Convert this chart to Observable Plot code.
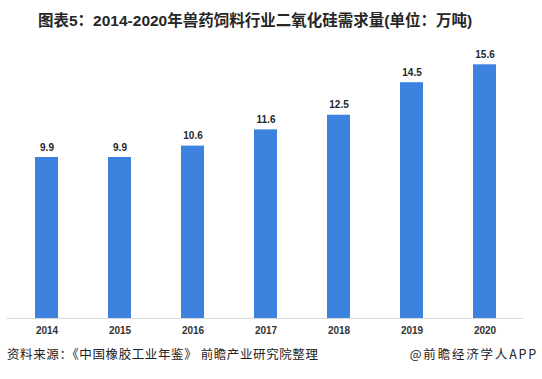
<!DOCTYPE html>
<html>
<head>
<meta charset="utf-8">
<script src="https://cdn.jsdelivr.net/npm/d3@7"></script>
<script src="https://cdn.jsdelivr.net/npm/@observablehq/plot@0.6"></script>
<style>
  html, body { margin: 0; padding: 0; background: #fff; }
  #wrap { position: relative; width: 542px; height: 379px; overflow: hidden; font-family: "Liberation Sans", "Noto Sans CJK SC", sans-serif; }
  #title { position: absolute; left: 38px; top: 8px; font-size: 15.5px; font-weight: bold; color: #262626; white-space: nowrap; }
  #chart { position: absolute; left: 0; top: 40px; }
  #source { position: absolute; left: 7px; top: 344px; font-size: 12.5px; color: #222; letter-spacing: 0.6px; white-space: nowrap; font-family: "Noto Sans CJK SC", sans-serif; }
  #brand { position: absolute; right: 4px; top: 344px; font-size: 12.5px; color: #222; letter-spacing: 1.8px; white-space: nowrap; font-family: "Noto Sans CJK SC", sans-serif; }
</style>
</head>
<body>
<div id="wrap">
  <div id="title">图表5：2014-2020年兽药饲料行业二氧化硅需求量(单位：万吨)</div>
  <div id="chart"></div>
  <div id="source">资料来源：《中国橡胶工业年鉴》 前瞻产业研究院整理</div>
  <div id="brand">@前瞻经济学人APP</div>
</div>
<script>
const years = ["2014", "2015", "2016", "2017", "2018", "2019", "2020"];
const demand = [9.9, 9.9, 10.6, 11.6, 12.5, 14.5, 15.6];
const data = years.map((y, i) => ({year: y, value: demand[i]}));

const chart = Plot.plot({
  width: 542,
  height: 300,
  marginLeft: 6.6,
  marginRight: 18.6,
  marginTop: 17.8,
  marginBottom: 22,
  style: {fontFamily: "Liberation Sans, sans-serif", background: "transparent"},
  x: {domain: years, paddingInner: 0.688, paddingOuter: 0.344, label: null},
  y: {domain: [0, 16], axis: null},
  marks: [
    Plot.barY(data, {x: "year", y: "value", fill: "#3d82de"}),
    Plot.ruleY([0], {stroke: "#d9d9d9", strokeWidth: 1}),
    Plot.text(data, {x: "year", y: "value", text: d => d.value.toFixed(1), dy: -10, fontSize: 10, fontWeight: "bold", fill: "#262626"}),
    Plot.axisX({tickSize: 0, tickPadding: 8, fontSize: 10, fontWeight: "bold", color: "#333", label: null})
  ]
});
document.getElementById("chart").appendChild(chart);
</script>
</body>
</html>
